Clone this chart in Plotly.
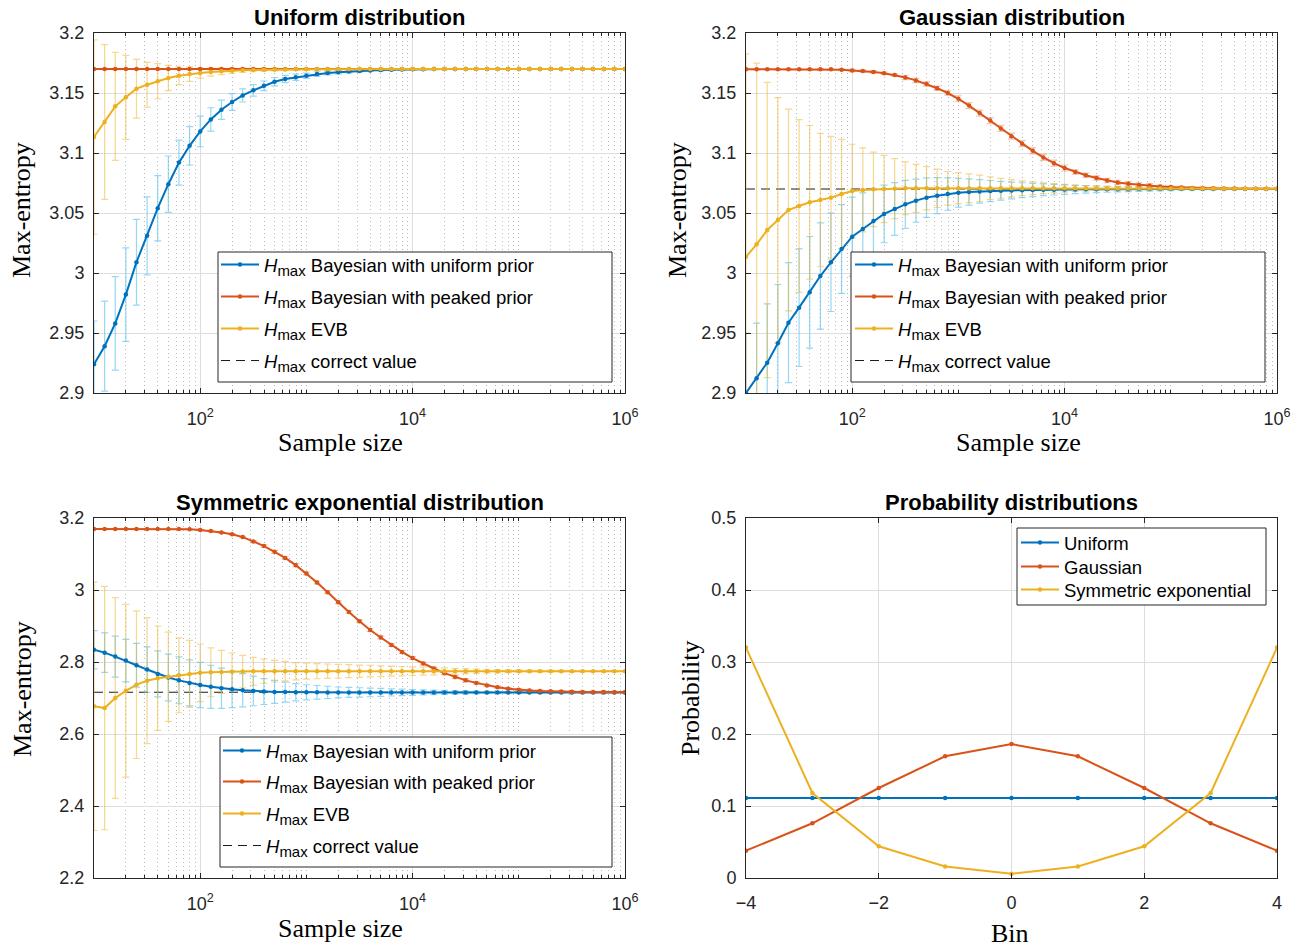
import plotly.graph_objects as go

W, H = 1302, 947

# ---------------- data ----------------
sample_size = [10, 12.59, 15.85, 19.95, 25.12, 31.62, 39.81, 50.12, 63.1, 79.43,
               100, 125.9, 158.5, 199.5, 251.2, 316.2, 398.1, 501.2, 631, 794.3,
               1000, 1259, 1585, 1995, 2512, 3162, 3981, 5012, 6310, 7943,
               10000, 12589, 15849, 19953, 25119, 31623, 39811, 50119, 63096, 79433,
               100000, 125893, 158489, 199526, 251189, 316228, 398107, 501187, 630957, 794328,
               1000000]

# Uniform distribution panel
unif_uniform_prior = [2.924, 2.939, 2.958, 2.982, 3.009, 3.031, 3.054, 3.074, 3.092, 3.106,
                      3.118, 3.128, 3.136, 3.1425, 3.148, 3.1522, 3.156, 3.1594, 3.1617, 3.1631,
                      3.1644, 3.1658, 3.1667, 3.1673, 3.1679, 3.1684, 3.1688, 3.1691, 3.1694, 3.1696,
                      3.1698, 3.1698, 3.1699, 3.1699, 3.1699, 3.1699, 3.1699, 3.1699, 3.1699, 3.1699,
                      3.1699, 3.1699, 3.1699, 3.1699, 3.1699, 3.1699, 3.1699, 3.1699, 3.1699, 3.1699,
                      3.1699]
unif_uniform_prior_err = [0.036, 0.0375, 0.039, 0.039, 0.0357, 0.0325, 0.0272, 0.0235, 0.0187, 0.016,
                          0.0128, 0.0097, 0.008, 0.0069, 0.0055, 0.0048, 0.004, 0.0035, 0.003, 0.0026,
                          0.0022, 0.0019, 0.0016, 0.0014, 0.0012, 0.001, 0.0009, 0.0008, 0.0007, 0.0006,
                          0.0005, 0.0005, 0.0004, 0.0004, 0.0004, 0.0003, 0.0003, 0.0003, 0.0003, 0.0002,
                          0.0002, 0.0002, 0.0002, 0.0002, 0.0001, 0.0001, 0.0001, 0.0001, 0.0001, 0.0001,
                          0.0001]
unif_peaked_prior = [3.1699, 3.1699, 3.1699, 3.1699, 3.1699, 3.1699, 3.1699, 3.1699, 3.1699, 3.1699,
                     3.1699, 3.1699, 3.1699, 3.1699, 3.1699, 3.1699, 3.1699, 3.1699, 3.1699, 3.1699,
                     3.1699, 3.1699, 3.1699, 3.1699, 3.1699, 3.1699, 3.1699, 3.1699, 3.1699, 3.1699,
                     3.1699, 3.1699, 3.1699, 3.1699, 3.1699, 3.1699, 3.1699, 3.1699, 3.1699, 3.1699,
                     3.1699, 3.1699, 3.1699, 3.1699, 3.1699, 3.1699, 3.1699, 3.1699, 3.1699, 3.1699,
                     3.1699]
unif_peaked_prior_err = [0.0005, 0.0005, 0.0005, 0.0005, 0.0005, 0.0005, 0.0005, 0.0005, 0.0005, 0.0005,
                         0.0005, 0.0005, 0.0005, 0.0005, 0.0005, 0.0005, 0.0005, 0.0005, 0.0005, 0.0005,
                         0.0004, 0.0004, 0.0004, 0.0004, 0.0004, 0.0004, 0.0004, 0.0004, 0.0004, 0.0004,
                         0.0003, 0.0003, 0.0003, 0.0003, 0.0003, 0.0003, 0.0003, 0.0003, 0.0003, 0.0003,
                         0.0002, 0.0002, 0.0002, 0.0002, 0.0002, 0.0002, 0.0002, 0.0002, 0.0002, 0.0002,
                         0.0002]
unif_evb = [3.1133, 3.1258, 3.1389, 3.1464, 3.1536, 3.1569, 3.1597, 3.1625, 3.1644, 3.1658,
            3.1667, 3.1675, 3.1681, 3.1686, 3.1689, 3.1692, 3.1694, 3.1695, 3.1696, 3.1697,
            3.1698, 3.1698, 3.1698, 3.1699, 3.1699, 3.1699, 3.1699, 3.1699, 3.1699, 3.1699,
            3.1699, 3.1699, 3.1699, 3.1699, 3.1699, 3.1699, 3.1699, 3.1699, 3.1699, 3.1699,
            3.1699, 3.1699, 3.1699, 3.1699, 3.1699, 3.1699, 3.1699, 3.1699, 3.1699, 3.1699,
            3.1699]
unif_evb_err = [0.081, 0.0645, 0.045, 0.035, 0.0245, 0.0186, 0.0147, 0.0106, 0.0074, 0.006,
                0.0045, 0.0035, 0.0028, 0.0022, 0.0018, 0.0015, 0.0012, 0.001, 0.0008, 0.0007,
                0.0006, 0.0005, 0.0005, 0.0004, 0.0004, 0.0003, 0.0003, 0.0003, 0.0002, 0.0002,
                0.0002, 0.0002, 0.0002, 0.0002, 0.0001, 0.0001, 0.0001, 0.0001, 0.0001, 0.0001,
                0.0001, 0.0001, 0.0001, 0.0001, 0.0001, 0.0001, 0.0001, 0.0001, 0.0001, 0.0001,
                0.0001]
unif_correct = 3.1699

# Gaussian distribution panel
gau_uniform_prior = [2.900, 2.9122, 2.9253, 2.9414, 2.9586, 2.9711, 2.9839, 2.9975, 3.0089, 3.0200,
                     3.0303, 3.0367, 3.0433, 3.0492, 3.0533, 3.0572, 3.0603, 3.0628, 3.0644, 3.0658,
                     3.0669, 3.0675, 3.0680, 3.0683, 3.0686, 3.0688, 3.0690, 3.0692, 3.0693, 3.0694,
                     3.0695, 3.0696, 3.0697, 3.0697, 3.0698, 3.0698, 3.0698, 3.0699, 3.0699, 3.0699,
                     3.0699, 3.0700, 3.0700, 3.0700, 3.0700, 3.0700, 3.0701, 3.0701, 3.0701, 3.0701,
                     3.0701]
gau_uniform_prior_err = [0.050, 0.046, 0.049, 0.049, 0.050, 0.049, 0.0465, 0.0443, 0.041, 0.037,
                         0.033, 0.030, 0.027, 0.024, 0.022, 0.020, 0.018, 0.0165, 0.015, 0.0135,
                         0.012, 0.011, 0.0098, 0.0088, 0.0078, 0.007, 0.0062, 0.0055, 0.0049, 0.0044,
                         0.0039, 0.0035, 0.0031, 0.0028, 0.0025, 0.0022, 0.0020, 0.0018, 0.0016, 0.0014,
                         0.0012, 0.0010, 0.0009, 0.0008, 0.0007, 0.0006, 0.0006, 0.0005, 0.0005, 0.0004,
                         0.0004]
gau_peaked_prior = [3.1698, 3.1698, 3.1698, 3.1698, 3.1698, 3.1698, 3.1698, 3.1698, 3.1697, 3.1694,
                    3.1688, 3.1683, 3.1676, 3.1665, 3.1650, 3.1630, 3.1605, 3.1575, 3.1540, 3.1500,
                    3.1452, 3.1395, 3.1333, 3.1270, 3.1205, 3.1140, 3.1078, 3.1018, 3.0963, 3.0915,
                    3.0875, 3.0842, 3.0815, 3.0791, 3.0770, 3.0755, 3.0743, 3.0734, 3.0727, 3.0721,
                    3.0716, 3.0712, 3.0709, 3.0707, 3.0706, 3.0705, 3.0704, 3.0703, 3.0703, 3.0702,
                    3.0702]
gau_peaked_prior_err = [0.0005, 0.0005, 0.0005, 0.0005, 0.0005, 0.0005, 0.0005, 0.0005, 0.0005, 0.0005,
                        0.001, 0.001, 0.001, 0.001, 0.001, 0.0018, 0.0018, 0.0018, 0.0018, 0.0018,
                        0.0025, 0.0025, 0.0025, 0.0025, 0.0025, 0.0025, 0.0025, 0.0025, 0.0025, 0.0025,
                        0.0025, 0.0018, 0.0018, 0.0018, 0.0018, 0.0018, 0.0018, 0.0018, 0.0018, 0.001,
                        0.001, 0.001, 0.001, 0.001, 0.001, 0.0006, 0.0006, 0.0006, 0.0006, 0.0006,
                        0.0006]
gau_evb = [3.0136, 3.0239, 3.0358, 3.0442, 3.0525, 3.0558, 3.0589, 3.0608, 3.0628, 3.0658,
           3.0683, 3.0692, 3.0697, 3.0700, 3.0703, 3.0706, 3.0706, 3.0706, 3.0706, 3.0706,
           3.0706, 3.0706, 3.0706, 3.0706, 3.0706, 3.0706, 3.0706, 3.0706, 3.0706, 3.0706,
           3.0706, 3.0706, 3.0706, 3.0706, 3.0705, 3.0705, 3.0705, 3.0705, 3.0705, 3.0705,
           3.0704, 3.0704, 3.0704, 3.0704, 3.0704, 3.0703, 3.0703, 3.0703, 3.0703, 3.0703,
           3.0703]
gau_evb_err = [0.169, 0.151, 0.123, 0.102, 0.084, 0.072, 0.064, 0.0556, 0.051, 0.0456,
               0.039, 0.035, 0.031, 0.028, 0.025, 0.022, 0.020, 0.018, 0.016, 0.014,
               0.013, 0.012, 0.011, 0.0095, 0.0083, 0.0072, 0.0062, 0.0053, 0.0045, 0.0038,
               0.0032, 0.0027, 0.0023, 0.0020, 0.0017, 0.0015, 0.0013, 0.0011, 0.0010, 0.0009,
               0.0008, 0.0007, 0.0006, 0.0006, 0.0005, 0.0005, 0.0004, 0.0004, 0.0004, 0.0003,
               0.0003]
gau_correct = 3.0700

# Symmetric exponential distribution panel
se_uniform_prior = [2.834, 2.826, 2.815, 2.804, 2.791, 2.779, 2.767, 2.757, 2.749, 2.742,
                    2.736, 2.731, 2.727, 2.724, 2.7215, 2.7195, 2.718, 2.717, 2.7165, 2.716,
                    2.7158, 2.7157, 2.7156, 2.7156, 2.7155, 2.7155, 2.7155, 2.7155, 2.7155, 2.7155,
                    2.7155, 2.7155, 2.7155, 2.7155, 2.7155, 2.7155, 2.7155, 2.7155, 2.7155, 2.7155,
                    2.7155, 2.7155, 2.7155, 2.7155, 2.7155, 2.7155, 2.7155, 2.7155, 2.7155, 2.7155,
                    2.7155]
se_uniform_prior_err = [0.053, 0.055, 0.057, 0.059, 0.061, 0.063, 0.064, 0.065, 0.065, 0.064,
                        0.063, 0.060, 0.056, 0.051, 0.046, 0.041, 0.036, 0.032, 0.028, 0.024,
                        0.021, 0.019, 0.017, 0.015, 0.014, 0.013, 0.012, 0.011, 0.010, 0.009,
                        0.008, 0.007, 0.0062, 0.0055, 0.0048, 0.0042, 0.0037, 0.0033, 0.0029, 0.0026,
                        0.0023, 0.0020, 0.0018, 0.0016, 0.0014, 0.0012, 0.0011, 0.0010, 0.0009, 0.0008,
                        0.0007]
se_peaked_prior = [3.1697, 3.1697, 3.1697, 3.1697, 3.1697, 3.1697, 3.1697, 3.1697, 3.1693, 3.1685,
                   3.1667, 3.164, 3.160, 3.155, 3.147, 3.135, 3.122, 3.106, 3.089, 3.069,
                   3.046, 3.021, 2.994, 2.966, 2.939, 2.913, 2.889, 2.868, 2.847, 2.828,
                   2.811, 2.796, 2.782, 2.769, 2.758, 2.749, 2.742, 2.735, 2.730, 2.726,
                   2.723, 2.721, 2.7195, 2.7185, 2.718, 2.7175, 2.717, 2.7167, 2.7165, 2.7163,
                   2.7162]
se_peaked_prior_err = [0.001, 0.001, 0.001, 0.001, 0.001, 0.001, 0.001, 0.001, 0.001, 0.001,
                       0.002, 0.002, 0.002, 0.002, 0.002, 0.002, 0.004, 0.004, 0.004, 0.004,
                       0.004, 0.004, 0.004, 0.004, 0.004, 0.004, 0.004, 0.004, 0.004, 0.004,
                       0.004, 0.004, 0.004, 0.004, 0.004, 0.004, 0.003, 0.003, 0.003, 0.003,
                       0.003, 0.003, 0.003, 0.002, 0.002, 0.002, 0.002, 0.002, 0.002, 0.002,
                       0.002]
se_evb = [2.677, 2.672, 2.700, 2.720, 2.737, 2.748, 2.755, 2.759, 2.763, 2.767,
          2.770, 2.7715, 2.7725, 2.773, 2.7735, 2.774, 2.7743, 2.7745, 2.7745, 2.7745,
          2.7745, 2.7745, 2.7745, 2.7745, 2.7745, 2.7745, 2.7745, 2.7745, 2.7745, 2.7745,
          2.7745, 2.7745, 2.7745, 2.7745, 2.7745, 2.7745, 2.7745, 2.7745, 2.7745, 2.7745,
          2.7745, 2.7745, 2.7745, 2.7745, 2.7745, 2.7745, 2.7745, 2.7745, 2.7745, 2.7745,
          2.7745]
se_evb_err = [0.345, 0.338, 0.279, 0.240, 0.205, 0.175, 0.145, 0.124, 0.104, 0.093,
              0.080, 0.068, 0.060, 0.052, 0.045, 0.039, 0.034, 0.030, 0.027, 0.024,
              0.022, 0.021, 0.020, 0.019, 0.018, 0.017, 0.016, 0.015, 0.014, 0.013,
              0.012, 0.011, 0.010, 0.009, 0.008, 0.007, 0.006, 0.0053, 0.0046, 0.004,
              0.0035, 0.003, 0.0026, 0.0023, 0.002, 0.0018, 0.0016, 0.0014, 0.0012, 0.0011,
              0.001]
se_correct = 2.7160

# Probability distributions panel
bins = [-4, -3, -2, -1, 0, 1, 2, 3, 4]
p_uniform = [0.1111, 0.1111, 0.1111, 0.1111, 0.1111, 0.1111, 0.1111, 0.1111, 0.1111]
p_gaussian = [0.038, 0.076, 0.125, 0.169, 0.186, 0.169, 0.125, 0.076, 0.038]
p_symexp = [0.320, 0.118, 0.044, 0.016, 0.006, 0.016, 0.044, 0.118, 0.320]

SUBH = "<i>H</i><sub><span style='font-size:15px'>max</span></sub> "
series_names = [SUBH + "Bayesian with uniform prior",
                SUBH + "Bayesian with peaked prior",
                SUBH + "EVB",
                SUBH + "correct value"]
dist_names = ["Uniform", "Gaussian", "Symmetric exponential"]

# ---------------- style ----------------
BLUE, RED, YEL = "#0072BD", "#D95319", "#EDB120"
ERR_COL = ["rgba(77,190,238,0.6)", "rgba(217,83,25,0.35)", "rgba(237,177,32,0.5)"]
AX = "#262626"
SANS = "Liberation Sans, Arial, sans-serif"
SERIF = "Liberation Serif, Times New Roman, serif"


def px(x):
    return x / W


def py(y):
    return 1 - y / H


# panel boxes in page pixels: (left, right, top, bottom)
boxes = {1: (94, 625, 33, 393), 2: (746, 1277, 33, 393),
         3: (94, 625, 518, 878), 4: (746, 1277, 518, 878)}

# legend boxes (left, right, top, bottom), line-symbol start x, row centres
legend_boxes = {1: (218, 612, 252, 382, 223, [265, 297, 329, 361]),
                2: (851, 1265, 252, 382, 857, [265, 297, 329, 361]),
                3: (220, 612, 737, 867, 225, [751, 782, 814, 846]),
                4: (1017, 1266, 528, 605, 1023, [543, 567, 590])}

fig = go.Figure()
legends = {}
leg_counter = [0]
legfont = dict(family=SANS, size=18.5, color="#000000")


def new_legend(panel, row):
    leg_counter[0] += 1
    name = "legend" if leg_counter[0] == 1 else f"legend{leg_counter[0]}"
    l, r, t, b, lx, rows = legend_boxes[panel]
    legends[name] = dict(x=px(lx - 7), y=py(rows[row]), xanchor="left", yanchor="middle",
                         bgcolor="rgba(0,0,0,0)", borderwidth=0, font=legfont,
                         itemwidth=38, tracegroupgap=0)
    return name


panels = [
    (1, unif_uniform_prior, unif_uniform_prior_err, unif_peaked_prior, unif_peaked_prior_err,
     unif_evb, unif_evb_err, unif_correct),
    (2, gau_uniform_prior, gau_uniform_prior_err, gau_peaked_prior, gau_peaked_prior_err,
     gau_evb, gau_evb_err, gau_correct),
    (3, se_uniform_prior, se_uniform_prior_err, se_peaked_prior, se_peaked_prior_err,
     se_evb, se_evb_err, se_correct),
]

for (i, bu, bue, pk, pke, ev, eve, corr) in panels:
    xa = "x" if i == 1 else f"x{i}"
    ya = "y" if i == 1 else f"y{i}"
    # correct value (dashed)
    fig.add_trace(go.Scatter(x=[sample_size[0], sample_size[-1]], y=[corr, corr], mode="lines",
                             line=dict(color="#1a1a1a", width=1, dash="9px,6px"),
                             name=series_names[3], legend=new_legend(i, 3),
                             xaxis=xa, yaxis=ya, hoverinfo="skip"))
    # error bars
    for ys, es, col in [(bu, bue, ERR_COL[0]), (pk, pke, ERR_COL[1]), (ev, eve, ERR_COL[2])]:
        fig.add_trace(go.Scatter(x=sample_size, y=ys, mode="lines",
                                 line=dict(width=0, color="rgba(0,0,0,0)"),
                                 error_y=dict(type="data", array=es, visible=True, color=col,
                                              thickness=1.2, width=3.5),
                                 showlegend=False, xaxis=xa, yaxis=ya, hoverinfo="skip"))
    # lines
    for k, (ys, col) in enumerate([(bu, BLUE), (pk, RED), (ev, YEL)]):
        fig.add_trace(go.Scatter(x=sample_size, y=ys, mode="lines+markers",
                                 line=dict(color=col, width=2),
                                 marker=dict(color=col, size=4.5),
                                 name=series_names[k], legend=new_legend(i, k),
                                 xaxis=xa, yaxis=ya))

for k, (ys, col) in enumerate([(p_uniform, BLUE), (p_gaussian, RED), (p_symexp, YEL)]):
    fig.add_trace(go.Scatter(x=bins, y=ys, mode="lines+markers",
                             line=dict(color=col, width=2), marker=dict(color=col, size=4.5),
                             name=dist_names[k], legend=new_legend(4, k),
                             xaxis="x4", yaxis="y4"))

# ---------------- axes ----------------
minor_vals = [m * 10 ** e for e in range(1, 6) for m in range(1, 10)
              if not (m == 1 and e in (1, 2, 4))]

tickfont = dict(family=SANS, size=18, color=AX)


def log_xaxis(i):
    l, r, t, b = boxes[i]
    return dict(type="log", range=[1, 6], domain=[px(l), px(r)],
                anchor="y" if i == 1 else f"y{i}", automargin=False,
                tickmode="array", tickvals=[100, 10000, 1000000],
                ticktext=["10<sup>2</sup>", "10<sup>4</sup>", "10<sup>6</sup>"],
                ticks="inside", ticklen=5, tickwidth=1, tickcolor=AX,
                showline=True, linecolor=AX, linewidth=1, mirror="ticks",
                showgrid=True, gridcolor="#dedede", gridwidth=1, zeroline=False,
                tickfont=tickfont, ticklabelstandoff=9,
                minor=dict(tickmode="array", tickvals=minor_vals, ticks="inside", ticklen=3,
                           tickcolor=AX, showgrid=True, gridcolor="#b8b8b8",
                           griddash="1px,3px", gridwidth=1))


def lin_axis(i, rng, vals, texts, horizontal=False):
    l, r, t, b = boxes[i]
    d = dict(range=rng, automargin=False,
             tickmode="array", tickvals=vals, ticktext=texts,
             ticks="inside", ticklen=5, tickwidth=1, tickcolor=AX,
             showline=True, linecolor=AX, linewidth=1, mirror="ticks",
             showgrid=True, gridcolor="#dedede", gridwidth=1, zeroline=False,
             tickfont=tickfont)
    if horizontal:
        d.update(domain=[px(l), px(r)], anchor=f"y{i}", ticklabelstandoff=8)
    else:
        d.update(domain=[py(b), py(t)], anchor="x" if i == 1 else f"x{i}",
                 ticklabelstandoff=5)
    return d


yv12 = [2.9, 2.95, 3.0, 3.05, 3.1, 3.15, 3.2]
yt12 = ["2.9", "2.95", "3", "3.05", "3.1", "3.15", "3.2"]
yv3 = [2.2, 2.4, 2.6, 2.8, 3.0, 3.2]
yt3 = ["2.2", "2.4", "2.6", "2.8", "3", "3.2"]
yv4 = [0, 0.1, 0.2, 0.3, 0.4, 0.5]
yt4 = ["0", "0.1", "0.2", "0.3", "0.4", "0.5"]
xv4 = [-4, -2, 0, 2, 4]
xt4 = ["\u22124", "\u22122", "0", "2", "4"]

fig.update_layout(
    width=W, height=H, margin=dict(l=0, r=0, t=0, b=0, autoexpand=False),
    paper_bgcolor="white", plot_bgcolor="white",
    xaxis=log_xaxis(1), xaxis2=log_xaxis(2), xaxis3=log_xaxis(3),
    xaxis4=lin_axis(4, [-4, 4], xv4, xt4, horizontal=True),
    yaxis=lin_axis(1, [2.9, 3.2], yv12, yt12),
    yaxis2=lin_axis(2, [2.9, 3.2], yv12, yt12),
    yaxis3=lin_axis(3, [2.2, 3.2], yv3, yt3),
    yaxis4=lin_axis(4, [0, 0.5], yv4, yt4),
    showlegend=True,
)
fig.update_layout(legends)

shapes = []
for p, (l, r, t, b, lx, rows) in legend_boxes.items():
    shapes.append(dict(type="rect", xref="paper", yref="paper", x0=px(l), x1=px(r),
                       y0=py(b), y1=py(t), line=dict(color=AX, width=1),
                       fillcolor="white", layer="above"))
fig.update_layout(shapes=shapes)

ann = []
titles = [("Uniform distribution", 359.5, 18), ("Gaussian distribution", 1011.5, 18),
          ("Symmetric exponential distribution", 359.5, 502),
          ("Probability distributions", 1011.5, 502)]
for txt, x, y in titles:
    ann.append(dict(text=f"<b>{txt}</b>", x=px(x), y=py(y), xref="paper", yref="paper",
                    showarrow=False, xanchor="center", yanchor="middle",
                    font=dict(family=SANS, size=22, color="#000000")))
labels = [("Sample size", 340, 443, 0), ("Sample size", 1018, 443, 0),
          ("Sample size", 340, 928, 0), ("Bin", 1010, 933, 0),
          ("Max-entropy", 22, 210, -90), ("Max-entropy", 678, 210, -90),
          ("Max-entropy", 22, 689, -90), ("Probability", 690, 698, -90)]
for txt, x, y, ang in labels:
    ann.append(dict(text=txt, x=px(x), y=py(y), xref="paper", yref="paper",
                    showarrow=False, xanchor="center", yanchor="middle", textangle=ang,
                    font=dict(family=SERIF, size=26, color="#000000")))
fig.update_layout(annotations=ann)

# remove the browser's default 8px page margin so the figure fills the window exactly
fig.write_html("out.html", config={"displayModeBar": False},
               post_script="document.body.style.margin='0px';document.body.style.overflow='hidden';")
